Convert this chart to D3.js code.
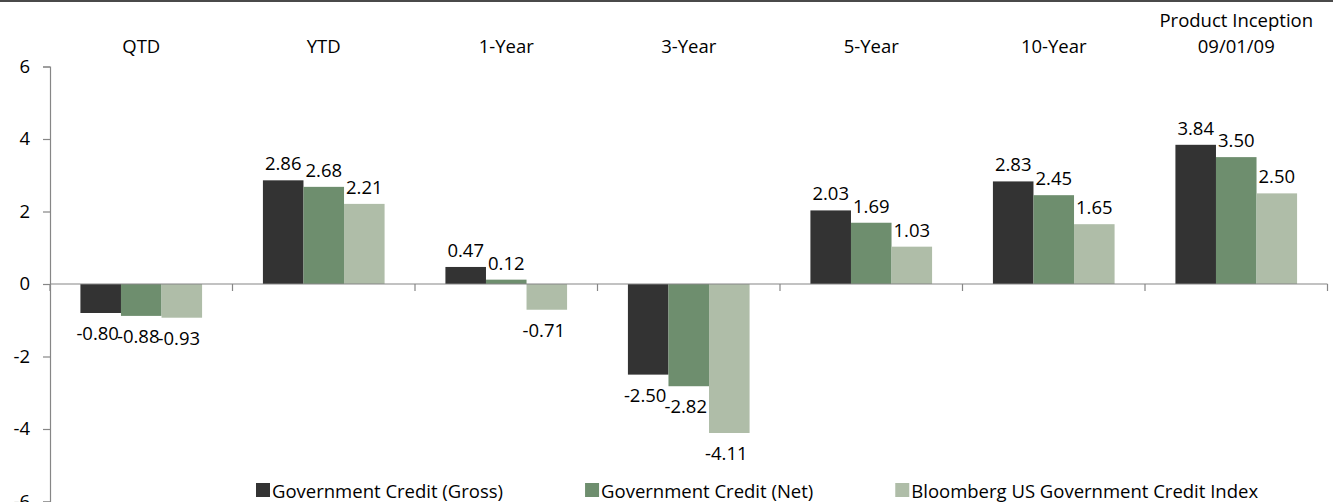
<!DOCTYPE html>
<html>
<head>
<meta charset="utf-8">
<script src="https://cdn.jsdelivr.net/npm/d3@7"></script>
<style>
  html, body { margin: 0; padding: 0; background: #ffffff; }
  svg { display: block; }
  text { font-family: "Open Sans", "Liberation Sans", sans-serif; fill: #000; }
</style>
</head>
<body>
<script>
// Period categories (header labels; "\n" splits a label into two lines)
const categories = ["QTD", "YTD", "1-Year", "3-Year", "5-Year", "10-Year", "Product Inception\n09/01/09"];

// Return series, one value per period
const seriesNames = ["Government Credit (Gross)", "Government Credit (Net)", "Bloomberg US Government Credit Index"];
const gross = [-0.80, 2.86, 0.47, -2.50, 2.03, 2.83, 3.84];
const net = [-0.88, 2.68, 0.12, -2.82, 1.69, 2.45, 3.50];
const index = [-0.93, 2.21, -0.71, -4.11, 1.03, 1.65, 2.50];

// Value axis ticks
const yTicks = [-6, -4, -2, 0, 2, 4, 6];

const colors = ["#333333", "#6e8e6e", "#afbda8"];

const W = 1333, H = 502;
const margin = { left: 50, right: 5.5, top: 66.5, bottom: 0.5 };
const fontSize = 18.5;

// Number formatting with a plain hyphen as the minus sign
const locale = d3.formatLocale({ decimal: ".", thousands: ",", grouping: [3], currency: ["$", ""], minus: "-" });
const fmt = locale.format(".2f");
const fmtTick = locale.format("d");

const svg = d3.select("body").append("svg")
  .attr("width", W).attr("height", H);

// Frame line across the top
svg.append("rect")
  .attr("x", 0).attr("y", 0).attr("width", W).attr("height", 2)
  .attr("fill", "#4a4a4a");

const y = d3.scaleLinear()
  .domain([d3.min(yTicks), d3.max(yTicks)])
  .range([H - margin.bottom, margin.top]);

const x0 = d3.scaleBand()
  .domain(categories)
  .range([margin.left, W - margin.right])
  .padding(0);

const x1 = d3.scaleBand()
  .domain(seriesNames)
  .range([0, x0.bandwidth()])
  .paddingInner(0)
  .paddingOuter(0.75);

const rows = categories.map((c, i) => ({
  cat: c,
  vals: [gross[i], net[i], index[i]].map((v, k) => ({ name: seriesNames[k], v, k }))
}));

// Bars
const groups = svg.append("g").selectAll("g")
  .data(rows).join("g")
  .attr("transform", d => `translate(${x0(d.cat)},0)`);

groups.selectAll("rect")
  .data(d => d.vals).join("rect")
  .attr("x", d => x1(d.name))
  .attr("width", x1.bandwidth())
  .attr("y", d => y(Math.max(0, d.v)))
  .attr("height", d => Math.abs(y(d.v) - y(0)))
  .attr("fill", d => colors[d.k]);

// Value labels: above positive bars, below negative bars
groups.selectAll("text.val")
  .data(d => d.vals).join("text")
  .attr("class", "val")
  .attr("x", d => x1(d.name) + x1.bandwidth() / 2 - (d.v < 0 ? 3 : 0))
  .attr("y", d => d.v >= 0 ? y(d.v) - 10 : y(d.v) + 27)
  .attr("text-anchor", "middle")
  .attr("font-size", fontSize)
  .text(d => fmt(d.v));

// Y axis
const yAxis = d3.axisLeft(y).tickValues(yTicks).tickSize(7).tickPadding(13)
  .tickFormat(fmtTick);
const gy = svg.append("g")
  .attr("transform", `translate(${margin.left},0)`)
  .call(yAxis);
gy.select(".domain").attr("stroke", "#868686").attr("stroke-width", 1.2);
gy.selectAll(".tick line").attr("stroke", "#868686").attr("stroke-width", 1.2);
gy.selectAll(".tick text")
  .attr("font-size", fontSize)
  .attr("font-family", "'Open Sans', 'Liberation Sans', sans-serif")
  .attr("fill", "#000");

// Category axis at zero, with tick marks between categories
const gx = svg.append("g").attr("transform", `translate(0,${y(0)})`);
gx.append("line")
  .attr("x1", x0.range()[0]).attr("x2", x0.range()[1])
  .attr("stroke", "#868686").attr("stroke-width", 1.2);
const boundaries = categories.map(c => x0(c)).concat([x0.range()[1]]);
gx.selectAll("line.sep")
  .data(boundaries).join("line")
  .attr("class", "sep")
  .attr("x1", d => d).attr("x2", d => d)
  .attr("y1", 0).attr("y2", 7)
  .attr("stroke", "#868686").attr("stroke-width", 1.2);

// Category headers along the top
const heads = svg.append("g").selectAll("text")
  .data(categories).join("text")
  .attr("text-anchor", "middle")
  .attr("font-size", fontSize)
  .attr("transform", d => `translate(${x0(d) + x0.bandwidth() / 2},53)`);
heads.each(function(d) {
  const lines = d.split("\n");
  const t = d3.select(this);
  lines.forEach((ln, i) => {
    t.append("tspan")
      .attr("x", 0)
      .attr("y", (i - (lines.length - 1)) * 26)
      .text(ln);
  });
});

// Legend
const legend = svg.append("g");
const legendStart = 256, legendGap = 82, swatch = 14;
let lx = legendStart;
seriesNames.forEach((name, k) => {
  const item = legend.append("g").attr("transform", `translate(${lx},0)`);
  item.append("rect")
    .attr("x", 0).attr("y", 483).attr("width", swatch).attr("height", swatch)
    .attr("fill", colors[k]);
  const t = item.append("text")
    .attr("x", swatch + 2).attr("y", 498)
    .attr("font-size", fontSize)
    .text(name);
  lx += swatch + 2 + t.node().getComputedTextLength() + legendGap;
});
</script>
</body>
</html>
